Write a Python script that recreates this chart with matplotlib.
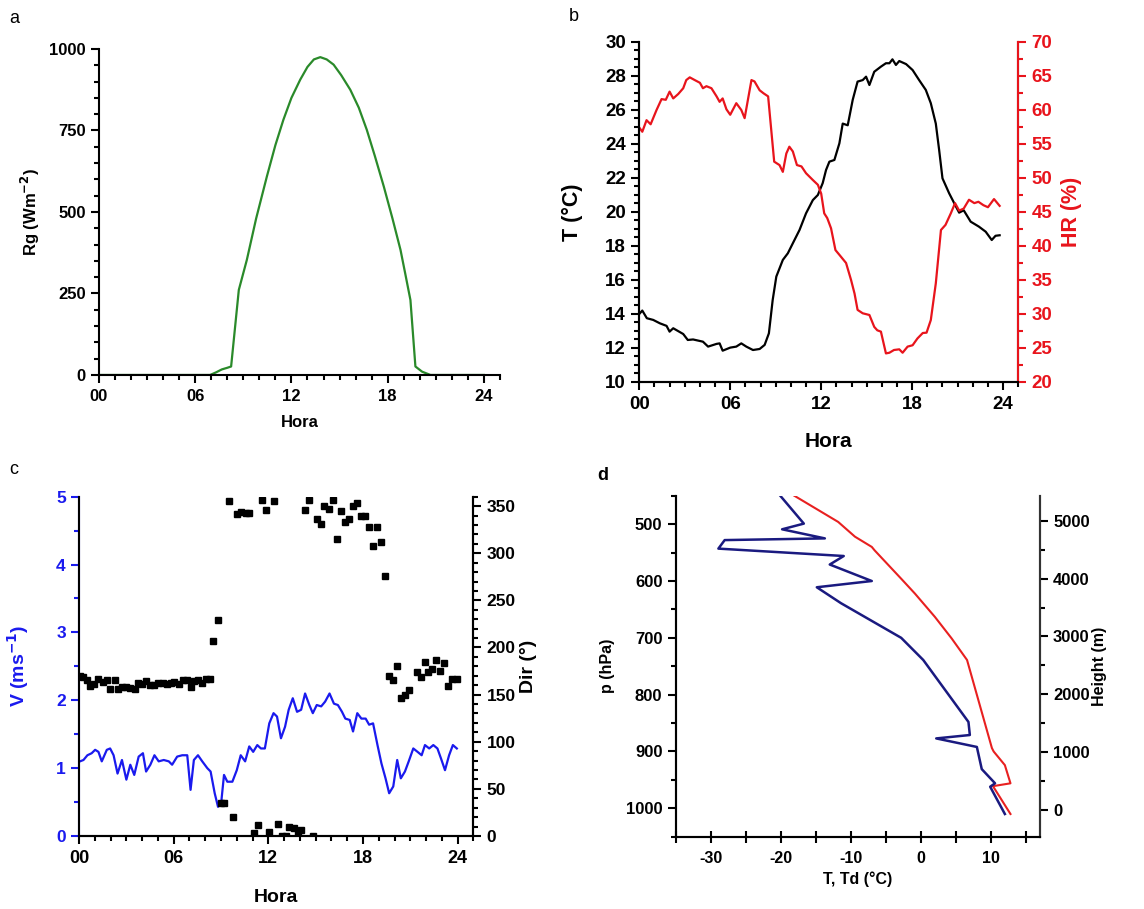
import matplotlib
matplotlib.use("Agg")
import matplotlib.pyplot as plt
from matplotlib.ticker import MultipleLocator

plt.rcParams['font.family'] = ['Liberation Sans', 'DejaVu Sans']
plt.rcParams['font.weight'] = 'bold'
plt.rcParams['axes.linewidth'] = 1.5
plt.rcParams['axes.unicode_minus'] = False

# ---- data ----
# a: global radiation
rg_hour = [0, 2, 4, 6, 6.93, 7.3, 7.66, 8.0, 8.24, 8.72, 9.22, 9.8, 10.47, 11.0, 11.5, 12.0,
           12.55, 13.0, 13.4, 13.8, 14.2, 14.63, 15.1, 15.67, 16.2, 16.7, 17.2, 17.76, 18.3,
           18.8, 19.1, 19.42, 19.73, 20.15, 20.67, 22, 24]
rg_val = [0, 0, 0, 0, 0, 8, 17, 22, 26, 261, 353, 480, 609, 705, 783, 850,
          906, 945, 968, 975, 968, 952, 920, 875, 820, 752, 672, 578, 480,
          384, 310, 230, 26, 10, 0, 0, 0]

# b: temperature and relative humidity
t_hour = [0.04, 0.2, 0.5, 0.92, 1.36, 1.8, 2.0, 2.24, 2.9, 3.2, 3.55, 4.2, 4.54, 5.1, 5.3, 5.5,
          6.0, 6.4, 6.73, 7.06, 7.5, 7.94, 8.27, 8.55, 8.8, 9.04, 9.47, 9.8, 10.13, 10.57, 11.0,
          11.45, 11.78, 12.1, 12.32, 12.54, 12.87, 13.2, 13.42, 13.75, 14.08, 14.4, 14.74, 14.96,
          15.18, 15.5, 15.94, 16.27, 16.5, 16.7, 16.93, 17.15, 17.6, 18.03, 18.46, 18.9, 19.23,
          19.56, 19.78, 20.0, 20.44, 20.9, 21.1, 21.4, 21.86, 22.4, 22.85, 23.25, 23.5, 23.77]
t_val = [14.04, 14.2, 13.75, 13.65, 13.45, 13.3, 12.96, 13.16, 12.82, 12.47, 12.5, 12.37, 12.08,
         12.24, 12.27, 11.84, 12.02, 12.08, 12.27, 12.08, 11.88, 11.94, 12.18, 12.86, 14.82, 16.2,
         17.18, 17.57, 18.16, 18.94, 19.92, 20.7, 21.0, 21.7, 22.47, 22.96, 23.06, 24.04, 25.2,
         25.1, 26.6, 27.67, 27.76, 27.96, 27.47, 28.25, 28.55, 28.75, 28.75, 28.98, 28.65, 28.88,
         28.7, 28.35, 27.76, 27.18, 26.4, 25.2, 23.65, 21.98, 21.1, 20.3, 19.96, 20.1, 19.43,
         19.14, 18.84, 18.35, 18.6, 18.63]
hr_hour = [0.04, 0.2, 0.48, 0.75, 1.14, 1.47, 1.75, 2.0, 2.24, 2.57, 2.9, 3.1, 3.33, 3.66, 4.0,
           4.2, 4.43, 4.76, 5.1, 5.3, 5.5, 5.75, 6.0, 6.4, 6.73, 6.95, 7.4, 7.6, 7.94, 8.2, 8.5,
           8.9, 9.25, 9.47, 9.7, 9.9, 10.13, 10.4, 10.7, 11.0, 11.45, 11.78, 12.0, 12.2, 12.4,
           12.65, 12.94, 13.2, 13.64, 13.97, 14.2, 14.4, 14.74, 15.18, 15.5, 15.7, 15.94, 16.27,
           16.5, 16.8, 17.15, 17.37, 17.7, 18.03, 18.35, 18.7, 18.95, 19.23, 19.56, 19.9, 20.2,
           20.55, 20.83, 21.1, 21.4, 21.75, 22.1, 22.37, 22.7, 23.0, 23.4, 23.77]
hr_val = [57.3, 56.8, 58.5, 57.9, 60.0, 61.6, 61.5, 62.7, 61.7, 62.35, 63.2, 64.4, 64.8, 64.4,
          64.0, 63.2, 63.5, 63.2, 62.0, 61.2, 61.7, 60.1, 59.3, 61.0, 60.0, 58.8, 64.4, 64.2,
          62.9, 62.45, 62.0, 52.4, 51.9, 50.9, 53.6, 54.6, 53.9, 51.9, 51.7, 50.7, 49.7, 49.0,
          47.7, 44.8, 44.1, 42.6, 39.4, 38.7, 37.5, 35.0, 33.0, 30.6, 30.1, 29.85, 28.1, 27.6,
          27.4, 24.2, 24.3, 24.7, 24.8, 24.3, 25.2, 25.4, 26.4, 27.2, 27.25, 29.1, 34.5, 42.35,
          43.1, 44.8, 46.3, 45.2, 45.5, 46.8, 46.3, 46.5, 46.0, 45.7, 46.9, 45.9]

# c: wind speed and direction
v_hour = [0.06, 0.28, 0.53, 0.8, 1.02, 1.23, 1.44, 1.76, 1.97, 2.19, 2.44, 2.72, 3.0, 3.25, 3.5,
          3.78, 4.05, 4.25, 4.52, 4.78, 5.05, 5.37, 5.69, 5.9, 6.22, 6.54, 6.86, 7.07, 7.28,
          7.54, 7.81, 8.13, 8.34, 8.6, 8.81, 9.02, 9.19, 9.4, 9.72, 10.0, 10.25, 10.53, 10.79,
          11.04, 11.3, 11.53, 11.78, 12.06, 12.33, 12.55, 12.8, 13.06, 13.29, 13.55, 13.82,
          14.08, 14.33, 14.6, 14.82, 15.07, 15.35, 15.6, 15.88, 16.16, 16.41, 16.67, 16.88,
          17.16, 17.37, 17.64, 17.9, 18.17, 18.39, 18.64, 18.92, 19.17, 19.43, 19.66, 19.92,
          20.17, 20.4, 20.66, 20.9, 21.19, 21.46, 21.72, 21.93, 22.2, 22.46, 22.72, 22.95,
          23.2, 23.46, 23.7, 23.95]
v_val = [1.10, 1.12, 1.19, 1.22, 1.27, 1.24, 1.10, 1.27, 1.29, 1.19, 0.92, 1.12, 0.83, 1.05,
         0.90, 1.17, 1.22, 0.95, 1.05, 1.19, 1.10, 1.12, 1.10, 1.05, 1.17, 1.19, 1.19, 0.68,
         1.12, 1.19, 1.10, 1.00, 0.95, 0.63, 0.43, 0.51, 0.90, 0.80, 0.80, 0.97, 1.19, 1.10,
         1.32, 1.24, 1.34, 1.29, 1.29, 1.66, 1.81, 1.76, 1.44, 1.61, 1.86, 2.03, 1.83, 1.86,
         2.10, 1.93, 1.81, 1.93, 1.91, 1.98, 2.10, 1.95, 1.93, 1.83, 1.73, 1.71, 1.54, 1.81,
         1.73, 1.73, 1.64, 1.66, 1.34, 1.07, 0.85, 0.63, 0.73, 1.12, 0.85, 0.95, 1.10, 1.29,
         1.24, 1.19, 1.34, 1.29, 1.34, 1.29, 1.14, 0.97, 1.19, 1.34, 1.29]
dir_hour = [0.06, 0.23, 0.49, 0.7, 0.96, 1.23, 1.49, 1.76, 1.97, 2.25, 2.46, 2.72, 2.97, 3.25,
            3.52, 3.74, 3.99, 4.25, 4.48, 4.78, 5.01, 5.31, 5.58, 5.8, 6.0, 6.33, 6.6, 6.82,
            7.07, 7.28, 7.56, 7.81, 8.03, 8.3, 8.51, 8.81, 8.98, 9.19, 9.51, 9.79, 10.04, 10.25,
            10.57, 10.79, 11.06, 11.32, 11.59, 11.85, 12.06, 12.33, 12.59, 12.87, 13.12, 13.33,
            13.61, 13.86, 14.08, 14.33, 14.6, 14.86, 15.1, 15.35, 15.56, 15.84, 16.09, 16.37,
            16.62, 16.88, 17.11, 17.37, 17.64, 17.86, 18.11, 18.39, 18.64, 18.9, 19.13, 19.38,
            19.64, 19.92, 20.17, 20.4, 20.66, 20.9, 21.4, 21.68, 21.93, 22.14, 22.4, 22.63,
            22.89, 23.16, 23.42, 23.67, 23.95]
dir_val = [170, 169, 166, 159, 161, 167, 163, 165, 156, 166, 156, 158, 158, 157, 156, 162, 161,
           164, 160, 160, 162, 162, 161, 162, 163, 161, 165, 166, 158, 164, 165, 162, 167, 167,
           207, 229, 35, 35, 355, 20, 342, 344, 343, 343, 3, 12, 357, 346, 4, 355, 13, 0, 0, 10,
           8, 4, 6, 346, 356, 0, 336, 331, 350, 347, 356, 315, 345, 333, 336, 350, 353, 339, 339,
           328, 308, 328, 312, 276, 170, 166, 180, 146, 150, 155, 174, 169, 185, 174, 177, 187,
           175, 184, 159, 167, 167]

# d: sounding (pressure levels)
t_p = [450, 496, 522, 540, 546, 596, 622, 663, 701, 739, 894, 900, 924, 956, 961, 1010]
t_sound = [-18.05, -11.8, -9.4, -7.0, -6.6, -2.8, -0.85, 2.0, 4.4, 6.6, 10.15, 10.4, 12.0,
           12.8, 10.3, 12.8]
td_p = [450, 499, 509, 525, 528, 543, 556, 571, 600, 611, 639, 700, 739, 848, 871, 877, 892,
        931, 956, 962, 1010]
td_sound = [-20.06, -16.7, -19.8, -13.7, -28.0, -28.9, -11.0, -13.0, -7.0, -14.85, -11.4, -2.8,
            0.35, 6.8, 7.0, 2.2, 8.0, 8.7, 10.6, 9.9, 12.0]

hour_ticks = [0, 6, 12, 18, 24]
hour_labels = ["00", "06", "12", "18", "24"]

fig = plt.figure(figsize=(11.44, 9.09), dpi=100)


def style_hour_axis(ax, size):
    ax.set_xlim(0, 25)
    ax.set_xticks(hour_ticks)
    ax.set_xticklabels(hour_labels)
    ax.xaxis.set_minor_locator(MultipleLocator(1))
    ax.tick_params(axis='x', which='major', length=6, width=1.5, labelsize=size, pad=4)
    ax.tick_params(axis='x', which='minor', length=3.5, width=1.5)


# ---------- a ----------
axa = fig.add_axes([0.0865, 0.5875, 0.3505, 0.3586])
axa.plot(rg_hour, rg_val, color='#2a8a2a', lw=1.6)
axa.set_ylim(0, 1000)
axa.set_yticks([0, 250, 500, 750, 1000])
axa.yaxis.set_minor_locator(MultipleLocator(50))
axa.tick_params(axis='y', which='major', length=6, width=1.5, labelsize=12)
axa.tick_params(axis='y', which='minor', length=3.5, width=1.5)
style_hour_axis(axa, 12)
axa.spines['top'].set_visible(False)
axa.spines['right'].set_visible(False)
axa.set_xlabel("Hora", fontsize=12, fontweight='bold', labelpad=8)
axa.set_ylabel("Rg (Wm$^{\\mathbf{-2}}$)", fontsize=12, fontweight='bold', labelpad=5)
fig.text(0.008, 0.975, "a", fontsize=13, fontweight='normal')

# ---------- b ----------
axb = fig.add_axes([0.5588, 0.5798, 0.3313, 0.374])
axb.plot(t_hour, t_val, color='black', lw=1.6)
axb.set_ylim(10, 30)
axb.set_yticks(range(10, 31, 2))
axb.yaxis.set_minor_locator(MultipleLocator(0.5))
axb.tick_params(axis='y', which='major', length=6, width=1.5, labelsize=13.5)
axb.tick_params(axis='y', which='minor', length=3.5, width=1.5)
style_hour_axis(axb, 13.5)
axb.spines['top'].set_visible(False)
axb.set_xlabel("Hora", fontsize=15, fontweight='bold', labelpad=14)
axb.set_ylabel("T (°C)", fontsize=15.5, fontweight='bold', labelpad=16)
axb2 = axb.twinx()
axb2.plot(hr_hour, hr_val, color='#e8141c', lw=1.6)
axb2.set_ylim(20, 70)
axb2.set_yticks(range(20, 71, 5))
axb2.yaxis.set_minor_locator(MultipleLocator(2.5))
axb2.tick_params(axis='y', which='major', length=6, width=1.5, labelsize=13.5,
                 colors='#e8141c')
axb2.tick_params(axis='y', which='minor', length=3.5, width=1.5, colors='#e8141c')
axb2.spines['right'].set_color('#e8141c')
axb2.spines['top'].set_visible(False)
axb2.set_ylabel("HR (%)", fontsize=15.5, fontweight='bold', color='#e8141c', labelpad=6)
fig.text(0.497, 0.977, "b", fontsize=13, fontweight='normal')

# ---------- c ----------
axc = fig.add_axes([0.0691, 0.0803, 0.3447, 0.3733])
axc.plot(v_hour, v_val, color='#1a1aee', lw=1.6, zorder=3)
axc.set_ylim(0, 5)
axc.set_yticks(range(0, 6))
axc.yaxis.set_minor_locator(MultipleLocator(0.5))
axc.tick_params(axis='y', which='major', length=6, width=1.5, labelsize=12.5, colors='#1a1aee')
axc.tick_params(axis='y', which='minor', length=3.5, width=1.5, colors='#1a1aee')
axc.spines['left'].set_color('#1a1aee')
axc.spines['top'].set_visible(False)
style_hour_axis(axc, 13)
axc.set_xlabel("Hora", fontsize=14, fontweight='bold', labelpad=16)
axc.set_ylabel("V (ms$^{\\mathbf{-1}}$)", fontsize=14, fontweight='bold', color='#1a1aee',
               labelpad=18)
axc2 = axc.twinx()
axc2.plot(dir_hour, dir_val, 's', color='black', ms=4.0, zorder=2)
axc2.set_ylim(0, 360)
axc2.set_yticks(range(0, 351, 50))
axc2.yaxis.set_minor_locator(MultipleLocator(10))
axc2.tick_params(axis='y', which='major', length=6, width=1.5, labelsize=12.5)
axc2.tick_params(axis='y', which='minor', length=3.5, width=1.5)
axc2.spines['top'].set_visible(False)
axc2.set_ylabel("Dir (°)", fontsize=14, fontweight='bold', labelpad=3)
fig.text(0.008, 0.478, "c", fontsize=13, fontweight='normal')

# ---------- d ----------
axd = fig.add_axes([0.5906, 0.0795, 0.3184, 0.3751])
axd.plot(t_sound, t_p, color='#e82020', lw=1.5)
axd.plot(td_sound, td_p, color='#1a1a80', lw=1.8)
axd.set_xlim(-35, 17)
axd.set_ylim(1050, 450)
axd.set_xticks([-30, -20, -10, 0, 10])
axd.xaxis.set_minor_locator(MultipleLocator(5))
axd.set_yticks(range(500, 1001, 100))
axd.yaxis.set_minor_locator(MultipleLocator(50))
axd.tick_params(axis='x', which='both', direction='inout', length=8, width=1.5,
                labelsize=11.5, pad=6)
axd.tick_params(axis='y', which='major', length=6, width=1.5, labelsize=12)
axd.tick_params(axis='y', which='minor', length=3.5, width=1.5)
axd.spines['top'].set_visible(False)
for s in axd.spines.values():
    s.set_color('#333333')
axd.set_xlabel("T, Td (°C)", fontsize=11.5, fontweight='bold', labelpad=4)
axd.set_ylabel("p (hPa)", fontsize=11.5, fontweight='bold', labelpad=8)
axd2 = axd.twinx()
axd2.set_ylim(-461, 5432)
axd2.set_yticks(range(0, 5001, 1000))
axd2.yaxis.set_minor_locator(MultipleLocator(500))
axd2.tick_params(axis='y', which='major', length=6, width=1.5, labelsize=12)
axd2.tick_params(axis='y', which='minor', length=3.5, width=1.5)
axd2.spines['top'].set_visible(False)
axd2.spines['right'].set_color('#333333')
axd2.set_ylabel("Height (m)", fontsize=11.5, fontweight='bold', labelpad=2)
fig.text(0.522, 0.472, "d", fontsize=13, fontweight='bold')

fig.savefig("out.png", dpi=100)
